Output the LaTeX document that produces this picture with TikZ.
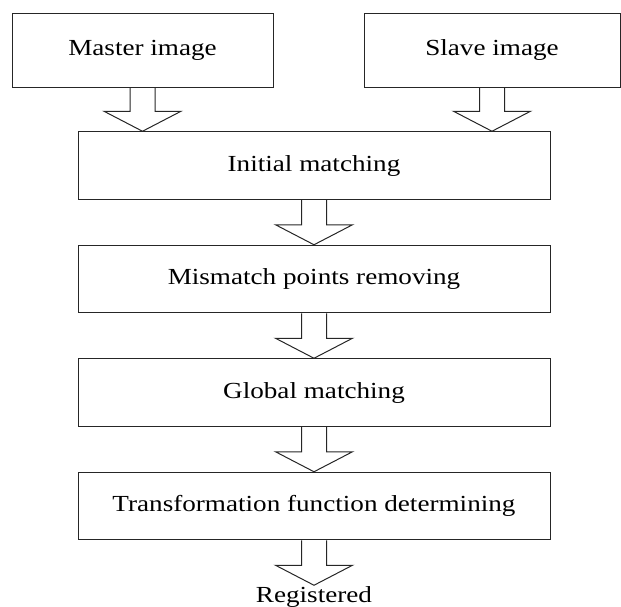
\documentclass[tikz,border=0pt]{standalone}
\usepackage{fontspec}
\setmainfont{Liberation Serif}[FakeStretch=1.18]
\usetikzlibrary{positioning,calc}
\tikzset{
  box/.style={draw=black!85, line width=0.5pt, rectangle, inner sep=0pt,
    font=\fontsize{11.5}{14}\selectfont},
  topbox/.style={box, minimum height=37pt},
  stepbox/.style={box, minimum width=236pt, minimum height=33.75pt},
  outtext/.style={inner sep=0pt, font=\fontsize{11.5}{14}\selectfont},
  fat/.style={draw=black!85, line width=0.5pt}
}
\newcommand{\hollowarrow}[2]{%
  \draw[fat] let \p1=(#1), \p2=(#2) in
    (\x2-6.25pt,\y1) -- (\x2-6.25pt,\y2+10pt) -- (\x2-19.25pt,\y2+10pt)
    -- (\x2,\y2) -- (\x2+19.25pt,\y2+10pt) -- (\x2+6.25pt,\y2+10pt)
    -- (\x2+6.25pt,\y1);}
\begin{document}
\begin{tikzpicture}[x=0.5pt,y=-0.5pt]
          \useasboundingbox (0,0) rectangle (621,606);
          \node [topbox, minimum width=130.5pt] (master) at (142.5,50) {Master image};
          \node [topbox, minimum width=128pt] (slave) at (492,50) {Slave image};
          \node [stepbox] (initial) at (314,165.5) {Initial matching};
          \node [stepbox, below=22.5pt of initial] (mismatch) {Mismatch points removing};
          \node [stepbox, below=22.5pt of mismatch] (global) {Global matching};
          \node [stepbox, below=22.5pt of global] (transform) {Transformation function determining};
          \coordinate (tip) at ($(transform.south)+(0,45)$);
          \node [outtext, below=0.5pt of tip] (registered) {Registered};
          \hollowarrow{master.south}{master.south |- initial.north}
          \hollowarrow{slave.south}{slave.south |- initial.north}
          \hollowarrow{initial.south}{mismatch.north}
          \hollowarrow{mismatch.south}{global.north}
          \hollowarrow{global.south}{transform.north}
          \hollowarrow{transform.south}{tip}
        \end{tikzpicture}
\end{document}
